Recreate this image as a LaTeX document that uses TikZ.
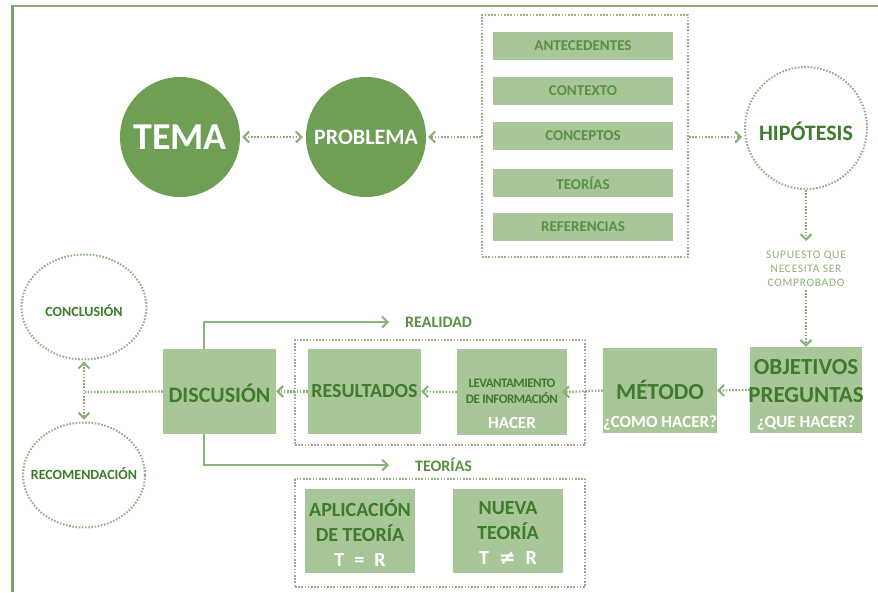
\documentclass[tikz,border=0pt]{standalone}
\usepackage{fontspec}
\setmainfont{Carlito}
\newfontfamily\symfont{DejaVu Sans}
\usetikzlibrary{arrows.meta,shapes.geometric}
\definecolor{circfill}{HTML}{6F9E55}
\definecolor{boxfill}{HTML}{A9C698}
\definecolor{dkgreen}{HTML}{3E7B2B}
\definecolor{mdgreen}{HTML}{5B8F45}
\definecolor{dotcol}{HTML}{8CAE78}
\definecolor{framecol}{HTML}{98AE8C}
\definecolor{linecol}{HTML}{8DB27A}
\definecolor{bordercol}{HTML}{7BA463}
\definecolor{topcol}{HTML}{8BA57E}
\begin{document}
\begin{tikzpicture}[x=1pt,y=-1pt,
  bigcirc/.style={circle, fill=circfill, minimum size=120pt, inner sep=0pt, text=white, font=\bfseries},
  dotshape/.style={draw=framecol, line width=2pt, dash pattern=on 1.6pt off 1.6pt, inner sep=0pt},
  infobar/.style={fill=boxfill, minimum width=180pt, minimum height=28pt, inner sep=0pt, text=mdgreen, font=\bfseries\fontsize{15}{18}\selectfont},
  gbox/.style={fill=boxfill, inner sep=0pt},
  maintxt/.style={text=dkgreen, font=\bfseries, align=center, inner sep=0pt},
  subtxt/.style={text=white, font=\bfseries\fontsize{17}{19}\selectfont, inner sep=0pt},
  barb/.tip={Straight Barb[length=5.5pt,width=11pt,line width=2pt]},
  dottip/.style={draw=dotcol, line width=2.2pt, dash pattern=on 1.6pt off 1.6pt, -barb},
  dotboth/.style={draw=dotcol, line width=2.2pt, dash pattern=on 1.6pt off 1.6pt, barb-barb},
  dotline/.style={draw=dotcol, line width=2.2pt, dash pattern=on 1.6pt off 1.6pt},
  solidarrow/.style={draw=linecol, line width=2pt, -barb},
  lbl/.style={text=mdgreen, font=\bfseries\fontsize{16}{18}\selectfont, inner sep=0pt}
]
\useasboundingbox (0,0) rectangle (878,592);
\fill[white] (0,0) rectangle (878,592);
% frame lines
\draw[bordercol, line width=3pt] (12,592) -- (12,6);
\draw[topcol, line width=2.2pt] (10.5,6) -- (878,6);

% top row
\node[bigcirc, font=\bfseries\fontsize{38}{40}\selectfont] (tema) at (180,137) {TEMA};
\node[bigcirc, font=\bfseries\fontsize{22}{24}\selectfont] (prob) at (366,137) {PROBLEMA};
\node[dotshape, rectangle, minimum width=206pt, minimum height=242pt] (info) at (585,136) {};
\node[infobar] (ant) at (583,45.5) {ANTECEDENTES};
\node[infobar] (ctx) at (583,90.5) {CONTEXTO};
\node[infobar] (cpt) at (583,136) {CONCEPTOS};
\node[infobar] (teo) at (583,183) {TEORÍAS};
\node[infobar] (ref) at (583,227) {REFERENCIAS};
\node[dotshape, circle, minimum size=122pt] (hip) at (806,128) {};
\node[maintxt, font=\bfseries\fontsize{22}{24}\selectfont] (hipt) at (806,131) {HIPÓTESIS};

\draw[dotboth, shorten <=2pt, shorten >=3pt] (tema.east) -- (prob.west);
\draw[dottip, shorten >=2pt] (info.west |- 0,137) -- (prob.east |- 0,137);
\draw[dottip, shorten >=2pt] (info.east |- 0,137) -- (hip.west |- 0,137);

% hypothesis text
\node[text=linecol, font=\fontsize{11.5}{14}\selectfont\addfontfeatures{LetterSpace=6}, align=center, inner sep=0pt] (sup) at (806,269) {SUPUESTO QUE\\NECESITA SER\\COMPROBADO};
\draw[dottip] (hip.south) -- (806,241);

% middle row
\node[gbox, minimum width=112pt, minimum height=86pt] (obj) at (806,390) {};
\node[maintxt, font=\bfseries\fontsize{23}{28}\selectfont] (objt) at (806,381) {OBJETIVOS\\PREGUNTAS};
\node[subtxt] (objs) at (806,423) {¿QUE HACER?};
\draw[dottip] (806,290) -- (obj.north);

\node[gbox, minimum width=114pt, minimum height=85pt] (met) at (660,390.5) {};
\node[maintxt, font=\bfseries\fontsize{23}{26}\selectfont] (mett) at (660,390) {MÉTODO};
\node[subtxt] (mets) at (660,423) {¿COMO HACER?};

\node[dotshape, rectangle, minimum width=290pt, minimum height=105pt] (mid) at (440,392.5) {};
\node[gbox, minimum width=110pt, minimum height=86pt] (lev) at (512,392) {};
\node[maintxt, font=\bfseries\fontsize{13}{16}\selectfont\addfontfeatures{LetterSpace=-4}] (levt) at (512,391) {LEVANTAMIENTO\\DE INFORMACIÓN};
\node[subtxt] (levs) at (512,423) {HACER};
\node[gbox, minimum width=113pt, minimum height=85pt] (res) at (364.5,391.5) {};
\node[maintxt, font=\bfseries\fontsize{20}{22}\selectfont] (rest) at (364.5,391) {RESULTADOS};

\node[gbox, minimum width=113pt, minimum height=85pt] (disc) at (219.5,391.5) {};
\node[maintxt, font=\bfseries\fontsize{22}{24}\selectfont] (disct) at (219.5,393) {DISCUSIÓN};

\draw[dottip] (obj.west) -- (met.east);
\draw[dottip, shorten >=-5pt] (met.west) -- (lev.east);
\draw[dottip] (lev.west) -- (res.east);
\draw[dottip] (res.west) -- (disc.east);

% conclusion / recommendation
\node[dotshape, ellipse, minimum width=125pt, minimum height=105pt] (con) at (84,307) {};
\node[maintxt, font=\bfseries\fontsize{14}{16}\selectfont] (cont) at (84,311) {CONCLUSIÓN};
\node[dotshape, ellipse, minimum width=122pt, minimum height=105pt] (rec) at (84,475) {};
\node[maintxt, font=\bfseries\fontsize{14}{16}\selectfont] (rect) at (84,474) {RECOMENDACIÓN};
\coordinate (junc) at (85,392);
\draw[dotboth, shorten <=1pt, shorten >=2pt] (con.south) -- (rec.north);
\draw[dotline] (disc.west) -- (junc);

% realidad / teorias
\node[lbl, anchor=west] (real) at (405,322) {REALIDAD};
\node[lbl, anchor=west] (teol) at (415,465) {TEORÍAS};
\draw[solidarrow, shorten >=16pt] ([xshift=-16pt]disc.north) |- (real.west);
\draw[solidarrow, shorten >=26pt] ([xshift=-16pt]disc.south) |- (teol.west);

% theory box
\node[dotshape, rectangle, minimum width=290pt, minimum height=108pt] (thr) at (440,533) {};
\node[gbox, minimum width=110pt, minimum height=84pt] (apl) at (360,531) {};
\node[maintxt, font=\bfseries\fontsize{20}{25}\selectfont] (aplt) at (360,533) {APLICACIÓN\\DE TEORÍA\\\textcolor{white}{T\enspace=\enspace R}};
\node[gbox, minimum width=110pt, minimum height=84pt] (nue) at (508,531) {};
\node[maintxt, font=\bfseries\fontsize{20}{25}\selectfont] (nuet) at (508,533) {NUEVA\\TEORÍA\\\textcolor{white}{T\enspace{\symfont\bfseries ≠}\enspace R}};
\end{tikzpicture}
\end{document}
